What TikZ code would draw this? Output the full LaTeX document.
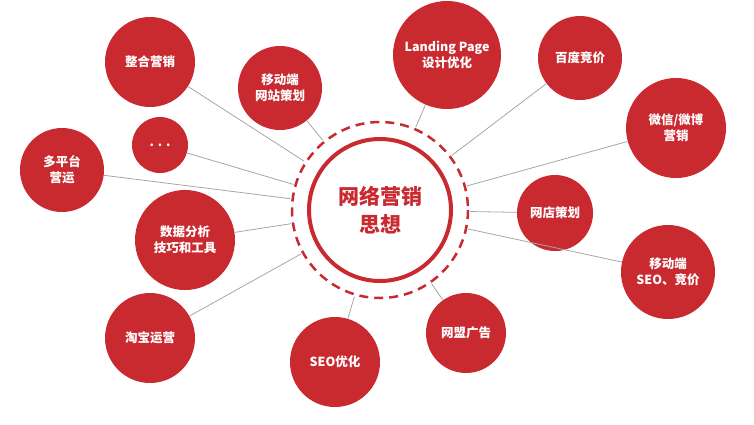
\documentclass[tikz,border=0pt]{standalone}
\usepackage{fontspec}
\setmainfont{Noto Sans CJK SC}
\definecolor{rd}{RGB}{200,42,48}
\begin{document}
\begin{tikzpicture}[x=1pt,y=-1pt,
  sat/.style={circle,fill=rd,text=white,inner sep=0pt,align=center,font=\fontsize{12.5}{16}\selectfont\bfseries},
  conn/.style={draw=gray!70,line width=0.8pt}]
\useasboundingbox (0,0) rectangle (754,424);
\node[circle,minimum size=180pt,inner sep=0pt] (hub) at (380,210) {};
\draw[rd,line width=2.5pt,dash pattern=on 9pt off 6pt] (hub.center) circle (88);
\draw[rd,line width=4pt,fill=white] (hub.center) circle (71);
\node[text=rd,font=\fontsize{21}{28}\selectfont\bfseries,align=center] at (hub.center) {网络营销\\思想};
\node[sat,minimum size=90pt] (a) at (150,62) {整合营销};
\node[sat,minimum size=84pt] (b) at (280,88) {移动端\\网站策划};
\node[sat,minimum size=108pt] (c) at (447,55) {Landing Page\\设计优化};
\node[sat,minimum size=84pt] (d) at (580,58) {百度竞价};
\node[sat,minimum size=100pt] (e) at (676,128) {微信/微博\\营销};
\node[sat,minimum size=56pt] (f) at (160,145) {. . .};
\node[sat,minimum size=84pt] (g) at (62,170) {多平台\\营运};
\node[sat,minimum size=76pt] (h) at (555,213) {网店策划};
\node[sat,minimum size=100pt] (i) at (185,240) {数据分析\\技巧和工具};
\node[sat,minimum size=94pt] (j) at (668,272) {移动端\\SEO、竞价};
\node[sat,minimum size=90pt] (k) at (150,338) {淘宝运营};
\node[sat,minimum size=90pt] (l) at (335,362) {SEO优化};
\node[sat,minimum size=80pt] (m) at (466,333) {网盟广告};
\foreach \n in {a,b,c,d,e,f,g,h,i,j,k,l,m}{
  \path[conn] (\n) -- (hub);
}
\end{tikzpicture}
\end{document}
